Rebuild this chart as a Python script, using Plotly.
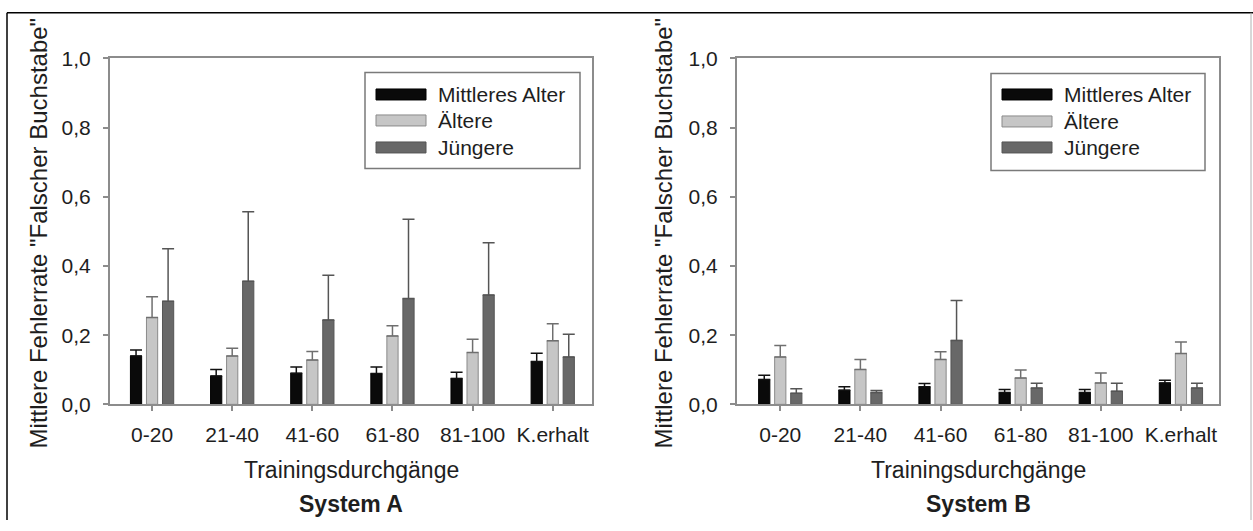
import plotly.graph_objects as go

W, H = 1253, 531

categories = ["0-20", "21-40", "41-60", "61-80", "81-100", "K.erhalt"]
series_names = ["Mittleres Alter", "Ältere", "Jüngere"]

# System A: means and upper error-bar ends
a_mittel = [0.140, 0.082, 0.090, 0.089, 0.075, 0.124]
a_mittel_err = [0.157, 0.101, 0.108, 0.108, 0.093, 0.148]
a_aeltere = [0.251, 0.140, 0.128, 0.198, 0.150, 0.184]
a_aeltere_err = [0.311, 0.162, 0.153, 0.227, 0.188, 0.233]
a_juengere = [0.298, 0.356, 0.244, 0.306, 0.316, 0.137]
a_juengere_err = [0.450, 0.557, 0.373, 0.535, 0.467, 0.203]

# System B
b_mittel = [0.072, 0.041, 0.051, 0.034, 0.034, 0.062]
b_mittel_err = [0.084, 0.051, 0.060, 0.043, 0.043, 0.070]
b_aeltere = [0.137, 0.101, 0.130, 0.076, 0.062, 0.147]
b_aeltere_err = [0.170, 0.130, 0.152, 0.099, 0.091, 0.180]
b_juengere = [0.032, 0.034, 0.185, 0.047, 0.038, 0.047]
b_juengere_err = [0.045, 0.040, 0.300, 0.061, 0.061, 0.061]

y_tickvals = [0.0, 0.2, 0.4, 0.6, 0.8, 1.0]
y_ticktext = ["0,0", "0,2", "0,4", "0,6", "0,8", "1,0"]

FONT = "Liberation Sans, Arial, sans-serif"
TXT = "#1e1e1e"
fills = ["#0a0a0a", "#c6c6c6", "#686868"]
outlines = ["#000000", "#8a8a8a", "#555555"]
errcols = ["#111111", "#6f6f6f", "#555555"]


def px(x):
    return x / W


def ys(y):
    # target screen row -> layout row (compensates the vertical fit of the capture)
    return (y - 11.5) / 0.957


def py(y):
    return 1 - ys(y) / H


fig = go.Figure()

systems = [
    ("x", "y", [a_mittel, a_aeltere, a_juengere], [a_mittel_err, a_aeltere_err, a_juengere_err]),
    ("x2", "y2", [b_mittel, b_aeltere, b_juengere], [b_mittel_err, b_aeltere_err, b_juengere_err]),
]
for xa, ya, vals, errs in systems:
    for i in range(3):
        plus = [e - v for v, e in zip(vals[i], errs[i])]
        fig.add_trace(go.Bar(
            x=list(range(len(categories))), y=vals[i], name=series_names[i],
            xaxis=xa, yaxis=ya, showlegend=False,
            marker=dict(color=fills[i], line=dict(color=outlines[i], width=1)),
            error_y=dict(type="data", symmetric=False, array=plus,
                         arrayminus=[0] * len(plus), color=errcols[i],
                         thickness=1.5, width=6),
            offsetgroup=str(i),
        ))

ydom = [py(404), py(58)]
axis_common = dict(showline=True, linecolor="#8c8c8c", linewidth=2, mirror=True,
                   showgrid=False, zeroline=False, ticks="outside", ticklen=5,
                   tickcolor="#8c8c8c", tickwidth=1.5,
                   tickfont=dict(family=FONT, size=21, color=TXT))

fig.update_layout(
    width=W, height=H, autosize=False,
    margin=dict(l=0, r=0, t=0, b=0),
    paper_bgcolor="white", plot_bgcolor="white",
    barmode="group", bargap=0.4, bargroupgap=0.3,
    xaxis=dict(domain=[px(110), px(592)], range=[-0.525, 5.49], anchor="y",
               tickvals=list(range(6)), ticktext=categories, ticklabelstandoff=5,
               **axis_common),
    yaxis=dict(domain=ydom, range=[0, 1.0], anchor="x",
               tickvals=y_tickvals, ticktext=y_ticktext, ticklabelstandoff=8,
               **axis_common),
    xaxis2=dict(domain=[px(737), px(1219)], range=[-0.54, 5.475], anchor="y2",
                tickvals=list(range(6)), ticktext=categories, ticklabelstandoff=5,
                **axis_common),
    yaxis2=dict(domain=ydom, range=[0, 1.0], anchor="x2",
                tickvals=y_tickvals, ticktext=y_ticktext, ticklabelstandoff=8,
                **axis_common),
)

shapes = []
annotations = []

# outer frame
top_y = 1 - 0.8 / H
shapes.append(dict(type="line", xref="paper", yref="paper", x0=px(7), x1=px(7), y0=top_y, y1=0,
                   line=dict(color="#000000", width=1.5)))
shapes.append(dict(type="line", xref="paper", yref="paper", x0=px(7), x1=px(1253), y0=top_y, y1=top_y,
                   line=dict(color="#000000", width=1.5)))
shapes.append(dict(type="line", xref="paper", yref="paper", x0=px(1251), x1=px(1251), y0=top_y, y1=0,
                   line=dict(color="#b0b0b0", width=1)))

# legends
legend_boxes = [
    dict(box=(365, 72, 580, 168), sw_x=(376, 426), text_x=436, rows=(94, 120, 147)),
    dict(box=(991, 73, 1205, 170), sw_x=(1002, 1052), text_x=1062, rows=(94, 121, 147)),
]
for lg in legend_boxes:
    x0, y0, x1, y1 = lg["box"]
    shapes.append(dict(type="rect", xref="paper", yref="paper", x0=px(x0), x1=px(x1), y0=py(y1), y1=py(y0),
                       line=dict(color="#7a7a7a", width=1.5), fillcolor="white"))
    for i, ry in enumerate(lg["rows"]):
        shapes.append(dict(type="rect", xref="paper", yref="paper",
                           x0=px(lg["sw_x"][0]), x1=px(lg["sw_x"][1]), y0=py(ry + 5.5), y1=py(ry - 5.5),
                           line=dict(color=outlines[i], width=1), fillcolor=fills[i]))
        annotations.append(dict(xref="paper", yref="paper", x=px(lg["text_x"]), y=py(ry),
                                text=series_names[i], showarrow=False, xanchor="left", yanchor="middle",
                                font=dict(family=FONT, size=21, color=TXT)))

ytitle = 'Mittlere Fehlerrate "Falscher Buchstabe"'
for cx in (38, 663):
    annotations.append(dict(xref="paper", yref="paper", x=px(cx), y=py(233), text=ytitle,
                            textangle=-90, showarrow=False, xanchor="center", yanchor="middle",
                            font=dict(family=FONT, size=24, color=TXT)))

for cx, label in ((351, "System A"), (978, "System B")):
    annotations.append(dict(xref="paper", yref="paper", x=px(cx), y=py(470), text="Trainingsdurchgänge",
                            showarrow=False, xanchor="center", yanchor="middle",
                            font=dict(family=FONT, size=23, color=TXT)))
    annotations.append(dict(xref="paper", yref="paper", x=px(cx), y=py(504), text="<b>" + label + "</b>",
                            showarrow=False, xanchor="center", yanchor="middle",
                            font=dict(family=FONT, size=23, color=TXT)))

fig.update_layout(shapes=shapes, annotations=annotations)

fig.write_html("out.html", config={"responsive": False, "displayModeBar": False},
               post_script="document.body.style.margin='0';document.body.style.overflow='hidden';")
